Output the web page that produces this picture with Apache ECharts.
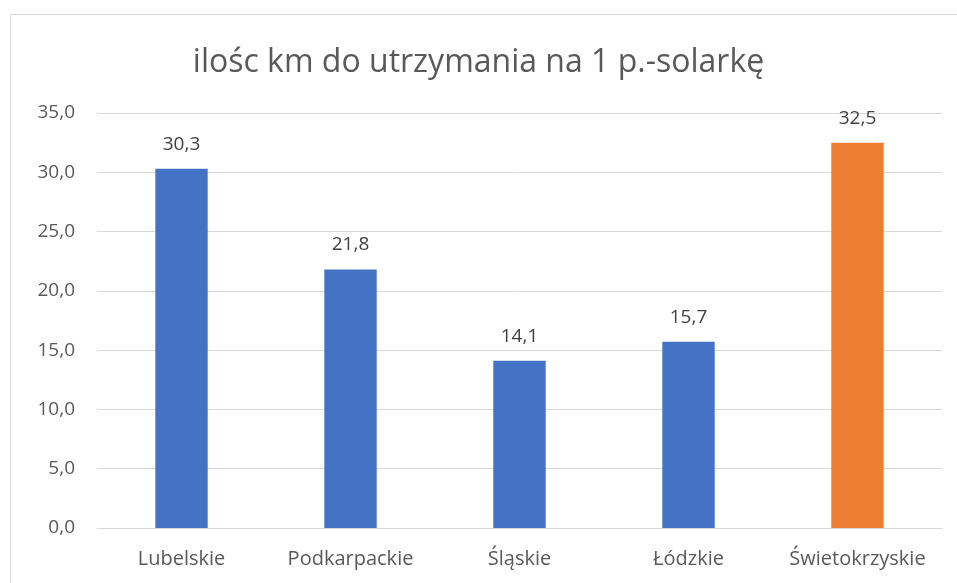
<!DOCTYPE html>
<html><head><meta charset="utf-8">
<script src="https://cdn.jsdelivr.net/npm/echarts@6/dist/echarts.min.js"></script>
<style>html,body{margin:0;padding:0;background:#fff;}#c{width:957px;height:583px;}</style>
</head><body><div id="c"></div>
<script>
const titleText = 'ilośc km do utrzymania na 1 p.-solarkę';
const categories = ['Lubelskie', 'Podkarpackie', 'Śląskie', 'Łódzkie', 'Świetokrzyskie'];
const values = [30.3, 21.8, 14.1, 15.7, 32.5];
const barColors = ['#4472C4', '#4472C4', '#4472C4', '#4472C4', '#ED7D31'];
const fmt = v => v.toFixed(1).replace('.', ',');
const chart = echarts.init(document.getElementById('c'));
const font = '"Open Sans", "Noto Sans", sans-serif';
chart.setOption({
  animation: false,
  graphic: [{type: 'rect', shape: {x: 10.5, y: 14.5, width: 1000, height: 700}, style: {fill: 'none', stroke: '#d9d9d9', lineWidth: 1}}],
  title: {text: titleText, left: 'center', top: 42, textStyle: {fontFamily: font, fontWeight: 'normal', fontSize: 32, color: '#595959'}},
  grid: {left: 97, right: 15, top: 113, bottom: 55, containLabel: false},
  xAxis: {type: 'category', data: categories,
    axisLine: {lineStyle: {color: '#d9d9d9'}}, axisTick: {show: false},
    axisLabel: {interval: 0, hideOverlap: false, color: '#595959', fontFamily: font, fontSize: 20, margin: 21}},
  yAxis: {type: 'value', min: 0, max: 35, interval: 5,
    axisLine: {show: false}, axisTick: {show: false},
    splitLine: {lineStyle: {color: '#d9d9d9'}},
    axisLabel: {color: '#595959', fontFamily: font, fontSize: 19, margin: 22, formatter: v => fmt(v)}},
  series: [{type: 'bar', barWidth: '31%',
    data: values.map((v, i) => ({value: v, itemStyle: {color: barColors[i]}})),
    label: {show: true, position: 'top', distance: 15, color: '#404040', fontFamily: font, fontSize: 19, formatter: p => fmt(p.value)}}]
});
</script></body></html>
